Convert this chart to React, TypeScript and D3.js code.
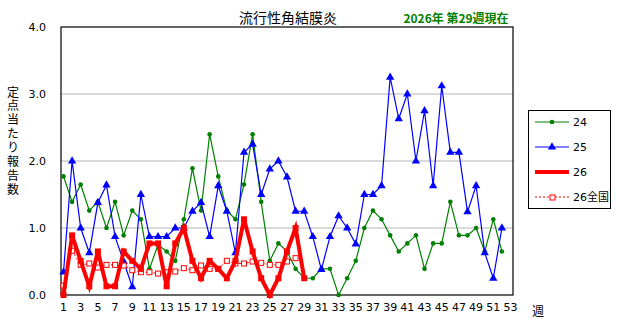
import * as d3 from "d3";

const weeks = d3.range(1, 54);
const xTickLabels = d3.range(1, 54, 2);
const yTicks = [0, 1, 2, 3, 4];

const s24 = [
  1.77, 1.39, 1.65, 1.26, 1.39, 1.0, 1.39, 0.89, 1.26, 1.13, 0.39, 0.75, 0.65,
  0.51, 1.13, 1.89, 1.26, 2.4, 1.77, 1.26, 1.13, 1.65, 2.4, 1.39, 0.51, 0.77,
  0.65, 0.39, 0.25, 0.25, 0.39, 0.39, 0.0, 0.25, 0.51, 1.0, 1.26, 1.13, 0.89,
  0.65, 0.77, 0.89, 0.39, 0.77, 0.77, 1.39, 0.89, 0.89, 1.0, 0.65, 1.13, 0.65,
];
const s25 = [
  0.34, 2.0, 1.0, 0.63, 1.38, 1.64, 0.87, 0.5, 0.12, 1.5, 0.87, 0.87, 0.87,
  1.0, 1.0, 1.25, 1.38, 0.87, 1.63, 1.25, 0.63, 2.13, 2.25, 1.5, 1.88, 2.0,
  1.76, 1.25, 1.25, 0.87, 0.38, 0.87, 1.18, 1.0, 0.76, 1.5, 1.5, 1.63, 3.25,
  2.63, 3.0, 2.0, 2.75, 1.63, 3.12, 2.13, 2.13, 1.24, 1.63, 0.63, 0.25, 1.0,
];
const s26 = [
  0.0, 0.89, 0.51, 0.13, 0.65, 0.13, 0.13, 0.65, 0.51, 0.39, 0.77, 0.77, 0.13,
  0.77, 1.0, 0.51, 0.25, 0.51, 0.39, 0.25, 0.51, 1.13, 0.65, 0.25, 0.0, 0.25,
  0.65, 1.0, 0.25,
];
const s26nat = [
  0.14, 0.66, 0.45, 0.47, 0.41, 0.45, 0.45, 0.44, 0.37, 0.34, 0.34, 0.32, 0.34,
  0.35, 0.4, 0.37, 0.44, 0.39, 0.39, 0.51, 0.47, 0.47, 0.5, 0.48, 0.45, 0.45,
  0.5, 0.55,
];

const FONT = "'DejaVu Sans', 'Noto Sans CJK JP', sans-serif";
const JP = "'Noto Sans CJK JP', sans-serif";

const frame = { left: 61, right: 513, top: 27, bottom: 295 };

const App = () => {
  const x = d3.scaleLinear().domain([1, 53]).range([63.5, 510.5]);
  const y = d3.scaleLinear().domain([0, 4]).range([frame.bottom, frame.top]);

  const line = d3
    .line<number>()
    .x((_, i) => x(weeks[i]))
    .y((d) => y(d));

  const tri = d3.symbol().type(d3.symbolTriangle).size(30)();

  return (
    <svg
      width={617}
      height={326}
      style={{ position: "absolute", left: 0, top: 0, background: "#fff" }}
    >
      {/* titles */}
      <text x={288} y={23} fontFamily={JP} fontSize={14} textAnchor="middle">
        流行性角結膜炎
      </text>
      <text
        x={456}
        y={23}
        fontFamily={JP}
        fontSize={12}
        fontWeight="bold"
        fill="#008000"
        textAnchor="middle"
      >
        2026年 第29週現在
      </text>

      {/* y axis label, vertical */}
      <text
        x={13}
        y={86}
        fontFamily={JP}
        fontSize={12}
        letterSpacing={1.9}
        style={{ writingMode: "vertical-rl" }}
      >
        定点当たり報告数
      </text>

      {/* grid */}
      {yTicks
        .filter((t) => t > 0 && t < 4)
        .map((t) => (
          <line
            key={t}
            x1={frame.left}
            x2={frame.right}
            y1={y(t)}
            y2={y(t)}
            stroke="#b4b4b4"
            strokeWidth={1}
          />
        ))}

      {/* y tick labels */}
      {yTicks.map((t) => (
        <text
          key={t}
          x={46}
          y={y(t) + 4}
          fontFamily={FONT}
          fontSize={11}
          textAnchor="end"
        >
          {t.toFixed(1)}
        </text>
      ))}

      {/* x tick labels */}
      {xTickLabels.map((w) => (
        <text
          key={w}
          x={x(w)}
          y={311}
          fontFamily={FONT}
          fontSize={11}
          textAnchor="middle"
        >
          {w}
        </text>
      ))}
      <text x={538} y={316} fontFamily={JP} fontSize={12} textAnchor="middle">
        週
      </text>

      {/* frame */}
      <rect
        x={frame.left}
        y={frame.top}
        width={frame.right - frame.left}
        height={frame.bottom - frame.top}
        fill="none"
        stroke="#000"
        strokeWidth={1.2}
      />

      {/* 24 */}
      <path d={line(s24)!} fill="none" stroke="#008000" strokeWidth={1.2} />
      {s24.map((d, i) => (
        <circle key={i} cx={x(weeks[i])} cy={y(d)} r={2.3} fill="#008000" />
      ))}

      {/* 25 */}
      <path d={line(s25)!} fill="none" stroke="#0000ff" strokeWidth={1.2} />
      {s25.map((d, i) => (
        <path
          key={i}
          d={tri!}
          transform={`translate(${x(weeks[i])},${y(d)})`}
          fill="#0000ff"
        />
      ))}

      {/* 26全国 */}
      <path
        d={line(s26nat)!}
        fill="none"
        stroke="#ff0000"
        strokeWidth={1}
        strokeDasharray="2,2"
      />
      {s26nat.map((d, i) => (
        <rect
          key={i}
          x={x(weeks[i]) - 2.5}
          y={y(d) - 2.5}
          width={5}
          height={5}
          fill="#fff"
          stroke="#ff0000"
          strokeWidth={1}
        />
      ))}

      {/* 26 */}
      <path d={line(s26)!} fill="none" stroke="#ff0000" strokeWidth={4} />
      {s26.map((d, i) => (
        <rect
          key={i}
          x={x(weeks[i]) - 3}
          y={y(d) - 3}
          width={6}
          height={6}
          fill="#ff0000"
        />
      ))}

      {/* legend */}
      <rect
        x={528.5}
        y={110.5}
        width={82}
        height={98}
        fill="#fff"
        stroke="#000"
        strokeWidth={1}
      />
      <g fontFamily={FONT} fontSize={11}>
        <line x1={535} x2={569} y1={122} y2={122} stroke="#008000" />
        <circle cx={552} cy={122} r={2.3} fill="#008000" />
        <text x={573} y={126}>24</text>

        <line x1={535} x2={569} y1={147} y2={147} stroke="#0000ff" />
        <path d={tri!} transform="translate(552,147)" fill="#0000ff" />
        <text x={573} y={151}>25</text>

        <line x1={535} x2={569} y1={172} y2={172} stroke="#ff0000" strokeWidth={4} />
        <text x={573} y={176}>26</text>

        <line
          x1={535}
          x2={569}
          y1={197}
          y2={197}
          stroke="#ff0000"
          strokeDasharray="2,2"
        />
        <rect x={550} y={195} width={5} height={5} fill="#fff" stroke="#ff0000" />
        <text x={573} y={201}>
          26<tspan fontFamily={JP}>全国</tspan>
        </text>
      </g>
    </svg>
  );
};

export default App;
